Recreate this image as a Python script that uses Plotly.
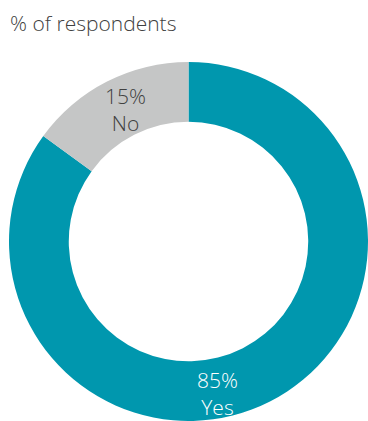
import plotly.graph_objects as go

# Survey answers
labels = ["Yes", "No"]
values = [85, 15]
colors = ["#0097AE", "#C5C6C6"]
label_colors = ["#FFFFFF", "#404040"]

W, H = 368, 421
FONT = "Open Sans"

fig = go.Figure()
fig.add_trace(go.Pie(
    labels=labels,
    values=values,
    hole=0.667,
    sort=False,
    direction="clockwise",
    rotation=0,
    marker=dict(colors=colors, line=dict(width=0)),
    textinfo="none",
    hoverinfo="label+percent",
    showlegend=False,
    domain=dict(x=[9 / W, 1.0], y=[0.0, (H - 62) / H]),
))

# Slice labels: percentage on the first line, answer on the second
label_pos = [(217, 393), (125, 110)]
for lab, val, col, (px, py) in zip(labels, values, label_colors, label_pos):
    fig.add_annotation(
        x=px / W, y=1 - py / H, xref="paper", yref="paper",
        text=f"{val}%<br>{lab}", showarrow=False,
        xanchor="center", yanchor="middle", align="center",
        font=dict(family=FONT, size=21, color=col, weight=300),
    )

fig.add_annotation(
    x=8 / W, y=1 - 23 / H, xref="paper", yref="paper",
    text="% of respondents", showarrow=False,
    xanchor="left", yanchor="middle",
    font=dict(family=FONT, size=21, color="#404040", weight=300),
)

fig.update_layout(
    width=W, height=H,
    margin=dict(l=0, r=0, t=0, b=0),
    paper_bgcolor="white",
    plot_bgcolor="white",
)

fig.write_html("out.html")
